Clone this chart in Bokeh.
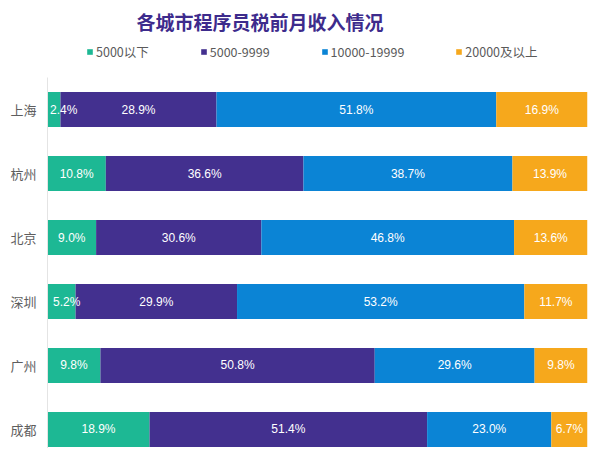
from bokeh.plotting import figure
from bokeh.models import ColumnDataSource, Range1d, Legend, LegendItem, FixedTicker
from bokeh.core.properties import value
from bokeh.embed import file_html
from bokeh.resources import INLINE

cities = ["上海", "杭州", "北京", "深圳", "广州", "成都"]
series = ["5000以下", "5000-9999", "10000-19999", "20000及以上"]
below5k = [2.4, 10.8, 9.0, 5.2, 9.8, 18.9]
r5_10k = [28.9, 36.6, 30.6, 29.9, 50.8, 51.4]
r10_20k = [51.8, 38.7, 46.8, 53.2, 29.6, 23.0]
above20k = [16.9, 13.9, 13.6, 11.7, 9.8, 6.7]
colors = ["#1db894", "#43308f", "#0b84d5", "#f6a81c"]

keys = ["s0", "s1", "s2", "s3"]
ys = list(range(len(cities)))
data = {"y": ys, "s0": below5k, "s1": r5_10k, "s2": r10_20k, "s3": above20k}
source = ColumnDataSource(data)

p = figure(frame_width=540, frame_height=409, output_backend="svg", toolbar_location=None,
           x_range=Range1d(0, 100), y_range=Range1d(5.297, -1.094),
           x_axis_location=None,
           min_border_left=47, min_border_right=1, min_border_bottom=0,
           min_border_top=32)

renderers = p.hbar_stack(keys, y="y", height=0.55, color=colors, source=source,
                         line_color=None)

# labels: centred in each segment; narrow segments get a left-aligned label
cx, cy, ct, lx, ly, lt = [], [], [], [], [], []
vals = [below5k, r5_10k, r10_20k, above20k]
for i in range(len(cities)):
    left = 0.0
    for s in range(4):
        v = vals[s][i]
        if v < 6:
            lx.append(left + v * 0.2); ly.append(i); lt.append(f"{v:.1f}%")
        else:
            cx.append(left + v / 2); cy.append(i); ct.append(f"{v:.1f}%")
        left += v

p.text(x=cx, y=cy, text=ct, text_align="center", text_baseline="middle",
       text_color="white", text_font_size="12px", text_font=value("Liberation Sans"))
p.text(x=lx, y=ly, text=lt, text_align="left", text_baseline="middle",
       text_color="white", text_font_size="12px", text_font=value("Liberation Sans"))

legend = Legend(items=[LegendItem(label=series[k], renderers=[renderers[k]]) for k in range(4)],
                orientation="horizontal", location=(39, 387), spacing=51,
                label_text_font_size="12.5px", label_text_color="#5a5a5a",
                label_text_font="Noto Sans CJK SC",
                glyph_width=7, glyph_height=7, label_standoff=3,
                border_line_color=None, background_fill_alpha=0,
                padding=0, margin=0)
p.add_layout(legend, "center")

p.title.text = "各城市程序员税前月收入情况"
p.title.text_font = "Noto Sans CJK SC"
p.title.text_font_size = "19px"
p.title.text_font_style = "bold"
p.title.text_color = "#3d2b8c"
p.title.align = "left"
p.title.offset = 89

p.yaxis.ticker = FixedTicker(ticks=ys)
p.yaxis.bounds = (-0.5, 5.297)
p.yaxis.major_label_overrides = {i: c for i, c in enumerate(cities)}
p.yaxis.major_label_text_font = "Noto Sans CJK SC"
p.yaxis.major_label_text_font_size = "13px"
p.yaxis.major_label_text_color = "#5e5e5e"
p.yaxis.major_label_standoff = 5
p.yaxis.axis_line_color = "#e4e4e4"
p.yaxis.major_tick_line_color = None
p.yaxis.minor_tick_line_color = None
p.grid.visible = False
p.outline_line_color = None

open("out.html", "w").write(file_html(p, INLINE))
